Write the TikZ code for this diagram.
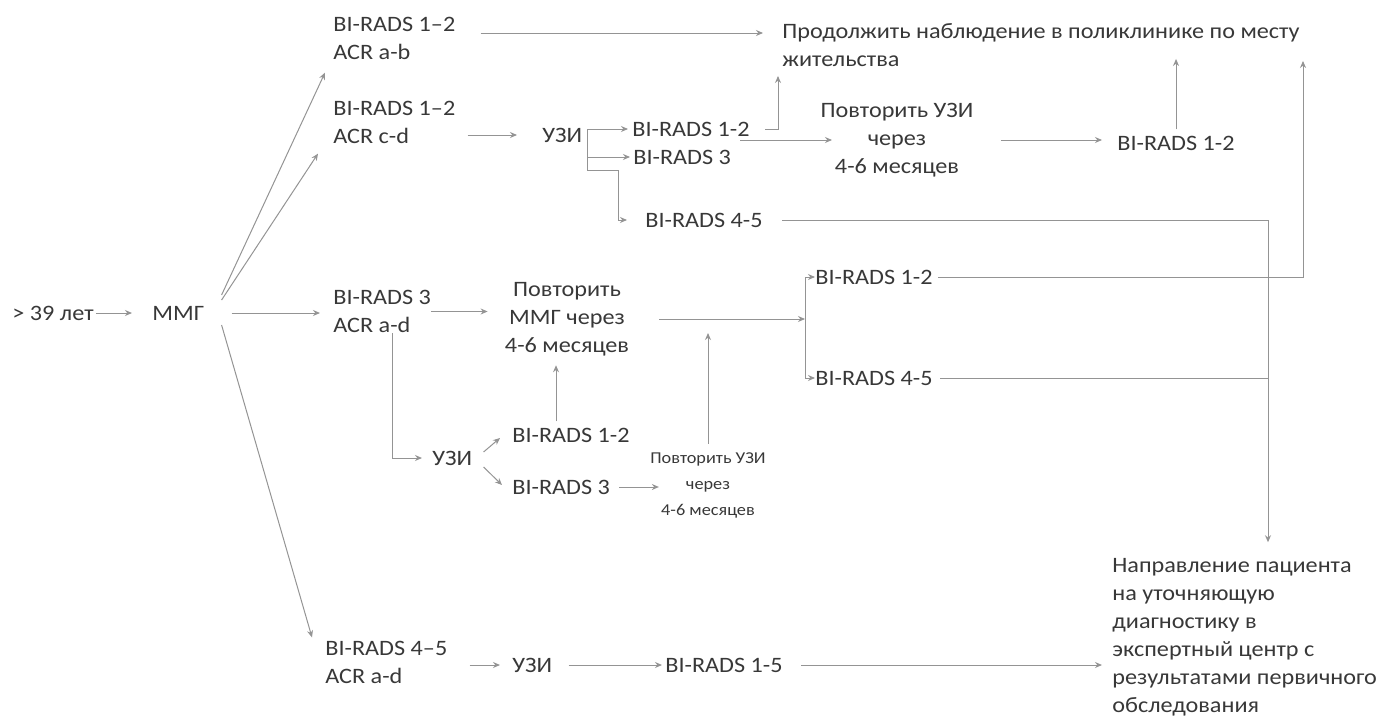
\documentclass[tikz,border=0pt]{standalone}
\usepackage{fontspec}
\setmainfont{Carlito}[FakeStretch=1.1]
\usetikzlibrary{arrows.meta}

\begin{document}
\begin{tikzpicture}[x=0.5pt,y=-0.5pt,
	txt/.style={inner sep=0pt, text=black!78, font=\fontsize{11}{14}\selectfont, align=left},
	arr/.style={draw=black!42, line width=0.5pt, -{Stealth[length=3.5pt,width=3pt]}},
	ln/.style={draw=black!42, line width=0.5pt}]

	\useasboundingbox (0,0) rectangle (1398,718);

	% start
	\node[txt, anchor=west] (age) at (12,313) {> 39 лет};
	\node[txt, anchor=west] (mmg) at (152,313) {ММГ};

	% mammography results
	\node[txt, anchor=west] (ab) at (333,38.5) {BI-RADS 1–2\\ACR a-b};
	\node[txt, anchor=west] (cd) at (333,122.5) {BI-RADS 1–2\\ACR c-d};
	\node[txt, anchor=west] (r3) at (333,311.5) {BI-RADS 3\\ACR a-d};
	\node[txt, anchor=west] (r45) at (325,662) {BI-RADS 4–5\\ACR a-d};

	\node[txt, anchor=west] (cont) at (782,45) {Продолжить наблюдение в поликлинике по месту\\жительства};

	% ACR c-d branch
	\node[txt, anchor=west] (uzi1) at (542,135) {УЗИ};
	\node[txt, anchor=west] (u12) at (632,129) {BI-RADS 1-2};
	\node[txt, anchor=west] (u3) at (633,157) {BI-RADS 3};
	\node[txt, anchor=west] (u45) at (645,220) {BI-RADS 4-5};
	\node[txt, align=center] (rep1) at (897,140) {Повторить УЗИ\\через\\4-6 месяцев};
	\node[txt, anchor=west] (rb12) at (1117,143) {BI-RADS 1-2};

	% BI-RADS 3 branch
	\node[txt, align=center] (repm) at (567,319) {Повторить\\ММГ через\\4-6 месяцев};
	\node[txt, anchor=west] (m12) at (815,277) {BI-RADS 1-2};
	\node[txt, anchor=west] (m45) at (815,378) {BI-RADS 4-5};
	\node[txt, anchor=west] (uzi2) at (432,458) {УЗИ};
	\node[txt, anchor=west] (v12) at (512,435) {BI-RADS 1-2};
	\node[txt, anchor=west] (v3) at (512,487) {BI-RADS 3};
	\node[txt, align=center, font=\fontsize{8.3}{13}\selectfont] (rep2) at (708,485) {Повторить УЗИ\\через\\4-6 месяцев};

	% BI-RADS 4-5 branch
	\node[txt, anchor=west] (uzi3) at (512,665) {УЗИ};
	\node[txt, anchor=west] (b15) at (665,665) {BI-RADS 1-5};
	\node[txt, anchor=west] (refer) at (1112,637.5) {Направление пациента\\на уточняющую\\диагностику в\\экспертный центр с\\результатами первичного\\обследования};

	% from MMG
	\draw[arr] ([xshift=1pt]age.east) -- ([xshift=-10pt]mmg.west);
	\draw[arr] ([shift={(17,-18)}]mmg.east) -- ([shift={(-8,12.5)}]ab.south west);
	\draw[arr] ([shift={(17,-13)}]mmg.east) -- ([shift={(-15,9.5)}]cd.south west);
	\draw[arr] ([xshift=13.5pt]mmg.east) -- ([xshift=-6.5pt]mmg.east -| r3.west);
	\draw[arr] ([shift={(17,12)}]mmg.east) -- ([shift={(-13,-3)}]r45.north west);

	% top row
	\draw[arr] ([shift={(25,-5.5)}]ab.east) -- ([shift={(-19,-12)}]cont.west);

	% c-d branch
	\draw[arr] ([xshift=6pt]uzi1.west -| cd.east) -- ([xshift=-12.5pt]uzi1.west);
	\coordinate (br) at ([xshift=2.5pt]uzi1.east);
	\draw[arr] (br |- u12) -- ([xshift=-2pt]u12.west);
	\draw[arr] (br |- u3) -- ([xshift=-1.5pt]u3.west);
	\draw[arr] (br |- u12) -- ++(0,41) -- ++(31,0) |- ([xshift=-9pt]u45.west);
	\draw[arr] ([xshift=7.5pt]u12.east) -| ([xshift=-2pt,yshift=-4.5pt]cont.south west);
	\draw[arr] ([xshift=4.5pt]u3.east |- rep1) -- ([xshift=-32.5pt]rep1.center);
	\draw[arr] ([xshift=13.5pt]rep1.east) -- ([xshift=-7.5pt]rep1.east -| rb12.west);
	\draw[arr] ([yshift=3pt]rb12.north) -- ([yshift=4pt]rb12.north |- cont.south);

	% to the expert centre
	\coordinate (drop) at (1268,220);
	\draw[arr] ([xshift=9.5pt]u45.east) -- (drop) -- ([yshift=8pt]drop |- refer.north);
	\coordinate (rise) at (1303,277);
	\draw[arr] ([xshift=2.5pt]m12.east) -- (rise) -- ([yshift=3pt]rise |- cont.south);
	\draw[ln] ([xshift=3.5pt]m45.east) -- (m45.east -| drop);

	% BI-RADS 3 branch
	\draw[arr] (r3.east) -- ([xshift=-8.5pt]r3.east -| repm.west);
	\draw[arr] ([xshift=15pt]repm.east) -- ([xshift=-5pt]repm.east -| m12.west);
	\coordinate (mbr) at ([xshift=-5pt]m12.west);
	\draw[arr] (mbr) -- (m12.west);
	\draw[arr] (mbr) |- (m45.west);
	\draw[arr] ([xshift=5pt]r3.south) |- ([xshift=-5pt]uzi2.west);
	\draw[arr] ([shift={(11,-6)}]uzi2.east) -- ([shift={(-12,3)}]v12.west);
	\draw[arr] ([shift={(11,9)}]uzi2.east) -- ([shift={(-10,-2)}]v3.west);
	\draw[arr] ([xshift=-7.5pt,yshift=3pt]v12.north) -- ([xshift=-7.5pt,yshift=-4.5pt]v12.north |- repm.south);
	\draw[arr] ([xshift=4.5pt]v3.east) -- ([xshift=4.5pt]rep2.west |- v3);
	\draw[arr] ([yshift=4pt]rep2.north) -- ([yshift=-7pt]rep2.north |- repm.east);

	% BI-RADS 4-5 branch
	\draw[arr] ([xshift=11pt]r45.east |- uzi3) -- ([xshift=-6pt]uzi3.west);
	\draw[arr] ([xshift=8pt]uzi3.east) -- ([xshift=-1.5pt]b15.west);
	\draw[arr] ([xshift=9pt]b15.east) -- ([xshift=-5pt]b15.east -| refer.west);

\end{tikzpicture}
\end{document}
